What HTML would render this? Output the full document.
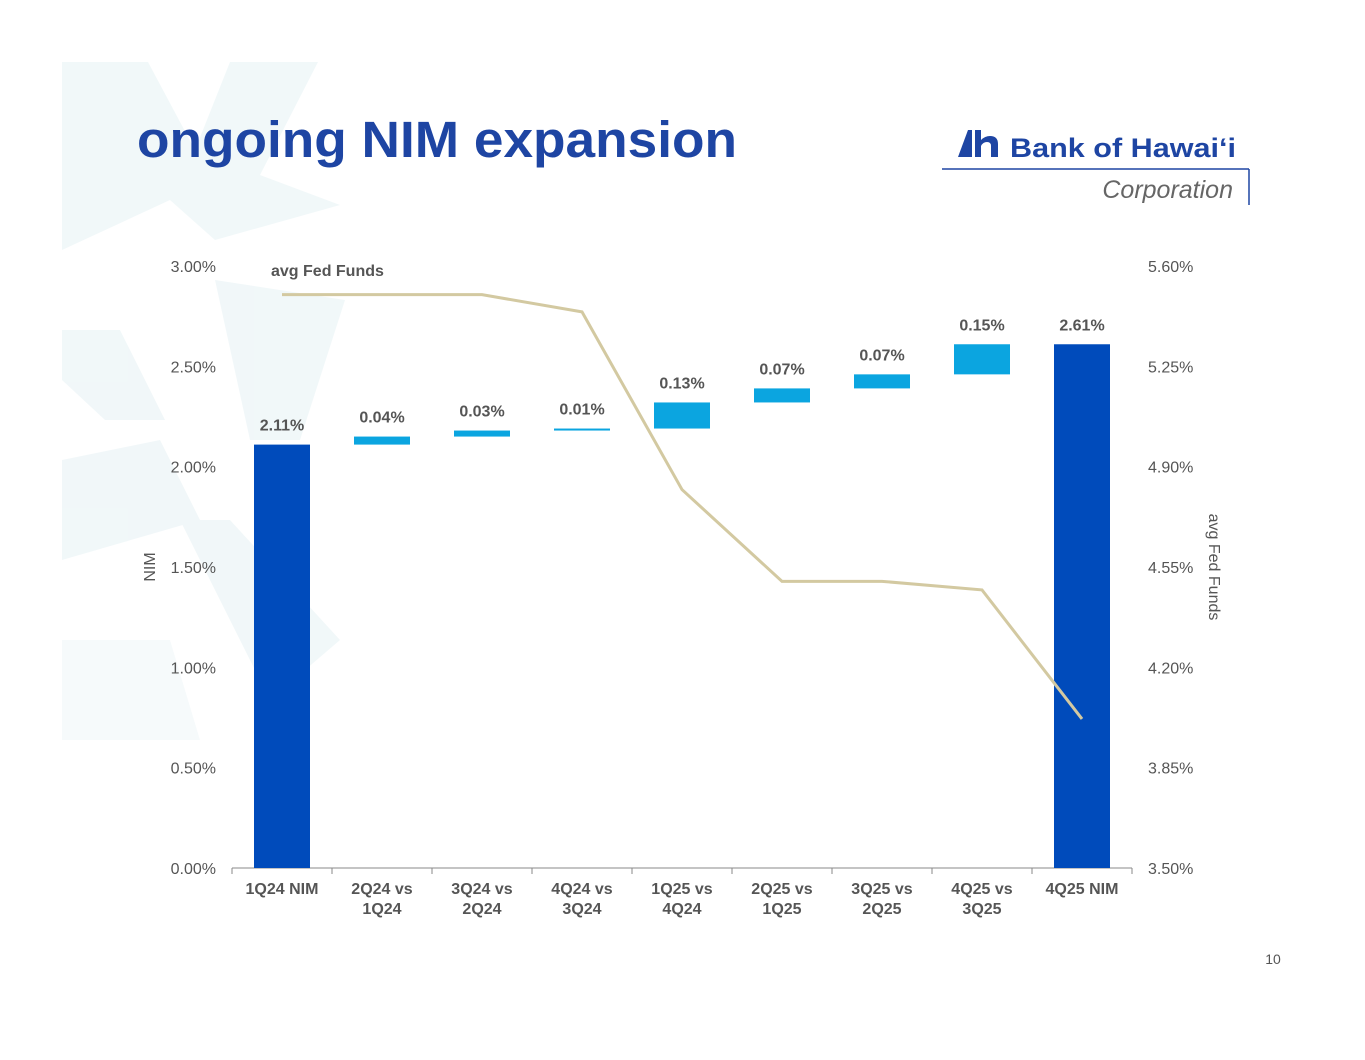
<!DOCTYPE html>
<html><head><meta charset="utf-8"><style>
body{margin:0;background:#fff;font-family:"Liberation Sans",Arial,sans-serif}
svg text{font-family:"Liberation Sans",Arial,sans-serif}
</style></head><body>
<svg width="1365" height="1055" viewBox="0 0 1365 1055">
<g fill="#eef6f8" opacity="0.8">
<polygon points="62,62 148,62 195,150 230,62 318,62 260,175 340,205 215,240 170,200 62,250"/>
<polygon points="62,330 120,330 165,420 105,420 62,380"/>
<polygon points="215,280 345,300 300,440 250,440"/>
<polygon points="62,460 160,440 200,520 62,560"/>
<polygon points="180,520 230,520 340,640 270,700"/>
<polygon points="62,640 170,640 200,740 62,740" opacity="0.6"/>
</g>
<text x="137" y="157" font-size="51" font-weight="bold" fill="#1e45a3" textLength="600" lengthAdjust="spacingAndGlyphs">ongoing NIM expansion</text>
<g>
<polygon points="958,157 968,130 972,130 972,157" fill="#1e45a3"/>
<path d="M975 157 V130 h6 v10 q4-4 9-4 q8 0 8 8 V157 h-7 V146 q0-4-4-4 q-4 0-6 4 V157z" fill="#1e45a3"/>
<text x="1010" y="157" font-size="27" font-weight="bold" fill="#1e45a3" textLength="226" lengthAdjust="spacingAndGlyphs">Bank of Hawaiʻi</text>
<line x1="942" y1="169" x2="1249" y2="169" stroke="#1e45a3" stroke-width="1.5"/>
<line x1="1249" y1="169" x2="1249" y2="205" stroke="#1e45a3" stroke-width="1.5"/>
<text x="1233" y="198" font-size="25" font-style="italic" fill="#666" text-anchor="end">Corporation</text>
</g>
<g id="chart"></g>
<text x="1273" y="964" font-size="14" fill="#555" text-anchor="middle">10</text>
</svg>
<script>
const categories=[["1Q24 NIM"],["2Q24 vs","1Q24"],["3Q24 vs","2Q24"],["4Q24 vs","3Q24"],["1Q25 vs","4Q24"],["2Q25 vs","1Q25"],["3Q25 vs","2Q25"],["4Q25 vs","3Q25"],["4Q25 NIM"]];
const nimDeltas=[2.11,0.04,0.03,0.01,0.13,0.07,0.07,0.15,2.61];
const barLabels=["2.11%","0.04%","0.03%","0.01%","0.13%","0.07%","0.07%","0.15%","2.61%"];
const fedFunds=[5.50,5.50,5.50,5.44,4.82,4.50,4.50,4.47,4.02];
const leftTicks=[0,0.5,1,1.5,2,2.5,3];
const rightTicks=[3.5,3.85,4.2,4.55,4.9,5.25,5.6];
const NS="http://www.w3.org/2000/svg";
const g=document.getElementById('chart');
const x0=232,cw=100,yb=868,yt=266;
const yL=v=>yb-(v/3)*(yb-yt);
const yR=v=>yb-((v-3.5)/2.1)*(yb-yt);
const cx=i=>x0+cw*i+cw/2;
function mk(t,a,txt){const e=document.createElementNS(NS,t);for(const k in a)e.setAttribute(k,a[k]);if(txt!==undefined)e.textContent=txt;g.appendChild(e);return e;}
leftTicks.forEach(v=>{const e=mk('text',{x:216,y:yL(v)+6,'font-size':16,fill:'#555','text-anchor':'end'},v.toFixed(2)+'%');

});
rightTicks.forEach(v=>{const e=mk('text',{x:1148,y:yR(v)+6,'font-size':16,fill:'#555'},v.toFixed(2)+'%');

});
let t=mk('text',{x:0,y:0,'font-size':16,fill:'#555','text-anchor':'middle',transform:'translate(155,567) rotate(-90)'},'NIM');


t=mk('text',{x:0,y:0,'font-size':16,fill:'#555','text-anchor':'middle',transform:'translate(1209,567) rotate(90)'},'avg Fed Funds');


let ax=mk('line',{x1:x0,y1:yb,x2:x0+cw*9,y2:yb,stroke:'#888','stroke-width':1});


for(let i=0;i<=9;i++){const tk=mk('line',{x1:x0+cw*i,y1:yb,x2:x0+cw*i,y2:yb+6,stroke:'#888'});

}
let run=0;
nimDeltas.forEach((v,i)=>{let lo,hi,col;
if(i===0||i===nimDeltas.length-1){lo=0;hi=v;col='#004bbb';run=v;}else{lo=run;hi=run+v;run=hi;col='#0ba5e0';}
const r=mk('rect',{x:cx(i)-28,y:yL(hi),width:56,height:Math.max(yL(lo)-yL(hi),2),fill:col});


const l=mk('text',{x:cx(i),y:yL(hi)-14,'font-size':16,'font-weight':'bold',fill:'#555','text-anchor':'middle'},barLabels[i]);


categories[i].forEach((s,j)=>{const c=mk('text',{x:cx(i),y:yb+26+j*20,'font-size':16,'font-weight':'bold',fill:'#555','text-anchor':'middle'},s);

});});
const pl=mk('polyline',{points:fedFunds.map((v,i)=>cx(i)+','+yR(v)).join(' '),fill:'none',stroke:'#d3c9a1','stroke-width':3});


t=mk('text',{x:271,y:276,'font-size':16,'font-weight':'bold',fill:'#555'},'avg Fed Funds');


</script>
</body></html>
